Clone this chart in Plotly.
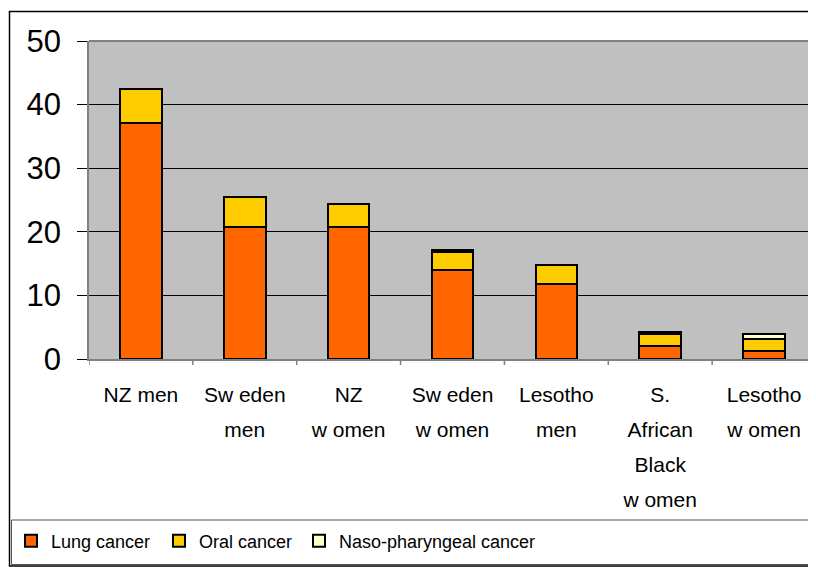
import plotly.graph_objects as go

categories = ["NZ men", "Sw eden<br>men", "NZ<br>w omen", "Sw eden<br>w omen",
              "Lesotho<br>men", "S.<br>African<br>Black<br>w omen", "Lesotho<br>w omen"]
lung = [37.1, 20.8, 20.8, 14.0, 11.8, 2.1, 1.3]
oral = [5.4, 4.7, 3.6, 2.8, 3.0, 1.8, 1.8]
naso = [0.0, 0.0, 0.0, 0.4, 0.0, 0.4, 0.8]
series_names = ["Lung cancer", "Oral cancer", "Naso-pharyngeal cancer"]
series_colors = ["#FF6600", "#FFCC00", "#FFFFCC"]
y_ticks = [0, 10, 20, 30, 40, 50]

FONT = "Liberation Sans, Arial, sans-serif"

# figure is placed at page offset (8, 8) by the html body margin
W, H = 808, 559
L, R, T, B = 81, 808, 33, 351
def px(x):
    return (x - L) / (R - L)
def py(y):
    return (B - y) / (B - T)

legend_ids = ["legend", "legend2", "legend3"]
legend_text_x = [43, 191, 331]   # figure px where legend text should start

fig = go.Figure()
for name, vals, col, lid in zip(series_names, [lung, oral, naso], series_colors, legend_ids):
    fig.add_trace(go.Bar(
        x=list(range(len(categories))), y=vals, name=name, legend=lid,
        marker=dict(color=col, line=dict(color="black", width=2)),
        width=0.4,
    ))

def legend_cfg(xpix):
    return dict(orientation="h", x=px(xpix - 40), y=py(533), xanchor="left", yanchor="middle",
                font=dict(size=18, family=FONT, color="black"), bgcolor="rgba(0,0,0,0)",
                itemclick=False, itemdoubleclick=False)

shapes = [
    dict(type="rect", xref="paper", yref="paper", x0=px(1.5), x1=px(807.5), y0=py(3.5), y1=py(558),
         line=dict(color="black", width=1.5)),
    dict(type="rect", xref="paper", yref="paper", x0=px(3.5), x1=px(806), y0=py(512), y1=py(556.5),
         line=dict(color="#555555", width=1)),
    dict(type="line", xref="paper", yref="paper", x0=0, x1=1, y0=1, y1=1,
         line=dict(color="#808080", width=2)),
]

tick_text = ['<br>'.join('<span style="font-size:21px">' + p + '</span>' for p in t.split('<br>'))
             for t in categories]

fig.update_layout(
    width=W, height=H,
    barmode="stack",
    paper_bgcolor="white",
    plot_bgcolor="#C0C0C0",
    margin=dict(l=L, r=W - R, t=T, b=H - B, pad=0),
    font=dict(family=FONT, color="black"),
    showlegend=True,
    legend=legend_cfg(legend_text_x[0]),
    legend2=legend_cfg(legend_text_x[1]),
    legend3=legend_cfg(legend_text_x[2]),
    shapes=shapes,
    xaxis=dict(
        range=[-0.5, 6.5], tickmode="array", tickvals=list(range(len(categories))),
        ticktext=tick_text, showgrid=False, showline=True, linecolor="#808080", linewidth=1.5,
        ticks="", tickfont=dict(size=27, family=FONT), ticklabelstandoff=9,
        zeroline=False, fixedrange=True,
    ),
    yaxis=dict(
        range=[0, 50], tickmode="array", tickvals=y_ticks, ticktext=[str(v) for v in y_ticks],
        showgrid=True, gridcolor="black", gridwidth=1.2, showline=True, linecolor="#808080",
        linewidth=1.5, ticks="outside", ticklen=10, tickcolor="black", tickwidth=1.2,
        tickfont=dict(size=31, family=FONT), ticklabelstandoff=10,
        zeroline=False, fixedrange=True,
    ),
)

# category boundary tick marks below x-axis
for i in range(len(categories) + 1):
    fig.add_shape(type="line", xref="x", yref="paper", x0=i - 0.5, x1=i - 0.5, y0=0, y1=py(357),
                  line=dict(color="#808080", width=1.5))

fig.write_html("out.html")
